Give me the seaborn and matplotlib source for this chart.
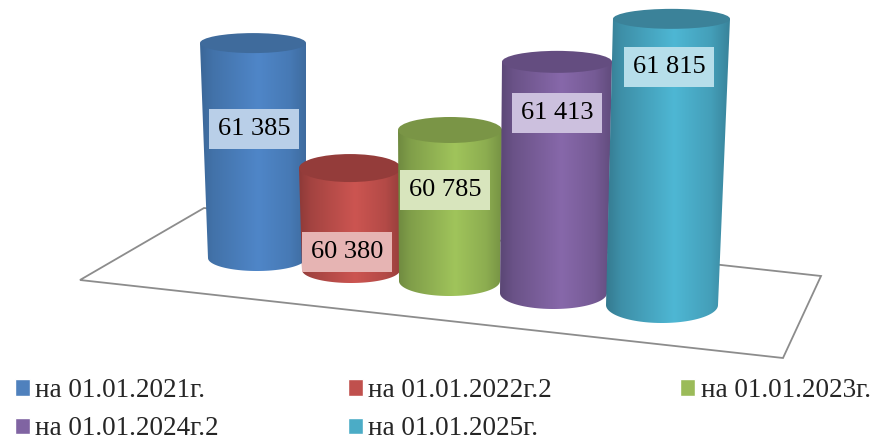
import numpy as np
import pandas as pd
import matplotlib
matplotlib.use("Agg")
import matplotlib.pyplot as plt
import matplotlib.colors as mcolors
from matplotlib.patches import Ellipse, PathPatch, Polygon
from matplotlib.path import Path
import seaborn as sns

# data
dates = ["на 01.01.2021г.", "на 01.01.2022г.2", "на 01.01.2023г.", "на 01.01.2024г.2", "на 01.01.2025г."]
values = [61385, 60380, 60785, 61413, 61815]

# colours: legend / centre of cylinder / edge / lid / label box
legend_colors = ["#4f81bd", "#c0504d", "#9bbb59", "#8064a2", "#4bacc6"]
mid_colors = ["#4f86c8", "#cc5551", "#a0c45b", "#8768aa", "#4eb7d4"]
edge_colors = ["#3b6798", "#8e3a38", "#6f8a40", "#5b4775", "#357a90"]
lid_colors = ["#3f6b9c", "#943c3a", "#7a9546", "#644d80", "#3b8299"]
box_colors = ["#b9cfe8", "#e6b4b3", "#d8e5bd", "#ccc0de", "#b6deea"]

# layout in pixels of the picture
top_left = [200, 299, 398, 502, 613]
top_right = [306, 401, 502, 612, 730]
base_left = [208, 302, 399, 500, 606]
base_right = [306, 400, 500, 607, 718]
base_y = [258, 270, 281, 293, 305]
lid_ry = [10, 14, 13, 11, 10]
base_ry = [13, 13, 15, 16, 18]
depth = [1.0, 1.0, 1.024, 1.06, 1.087]
label_x = [254, 347, 445, 557, 669]
label_drop = [86, 84, 60, 51, 48]
value_floor = 59473
px_per_unit = 0.1124

sns.set_style("white")
plt.rcParams["font.family"] = ["Liberation Serif", "DejaVu Serif"]

fig = plt.figure(figsize=(8.91, 4.41), dpi=100)
ax = fig.add_axes([0, 0, 1, 1])

df = pd.DataFrame({"date": dates, "value": values})
df["height"] = (df["value"] - value_floor) * px_per_unit * np.array(depth)
sns.barplot(data=df, x="date", y="height", hue="date", palette=legend_colors,
            saturation=1, dodge=False, legend=True, ax=ax)

# the bars only give the scaled heights, the cylinders are painted over them
bars = sorted([p for p in ax.patches if p.get_height() > 0], key=lambda p: p.get_x())
for p in ax.patches:
    p.set_visible(False)

ax.set_xlim(0, 891)
ax.set_ylim(441, 0)
ax.axis("off")

# floor
ax.add_patch(Polygon([(80, 280), (204, 208), (821, 276), (783, 358)], closed=True,
                     facecolor="white", edgecolor="#8c8c8c", linewidth=1.3, zorder=1))

# shading across a cylinder, brightest a little right of the middle
shade_pos = [0, 0.12, 0.55, 0.85, 1]
shade_mix = [0, 0.35, 1, 0.6, 0.15]

for i, bar in enumerate(bars):
    h = bar.get_height()
    y0 = base_y[i]
    y1 = y0 - h
    z = 3 + i

    c_mid = np.array(mcolors.to_rgb(mid_colors[i]))
    c_edge = np.array(mcolors.to_rgb(edge_colors[i]))
    xs = np.linspace(0, 1, 200)
    mix = np.interp(xs, shade_pos, shade_mix)[:, None]
    grad = (c_edge + (c_mid - c_edge) * mix)[None, :, :]

    cx0 = (base_left[i] + base_right[i]) / 2
    rx0 = (base_right[i] - base_left[i]) / 2
    cx1 = (top_left[i] + top_right[i]) / 2
    rx1 = (top_right[i] - top_left[i]) / 2

    t = np.linspace(0, np.pi, 60)
    arc = np.column_stack([cx0 + rx0 * np.cos(t), y0 + base_ry[i] * np.sin(t)])
    verts = np.vstack([[(top_left[i], y1), (top_right[i], y1)], arc, [(top_left[i], y1)]])
    codes = [Path.MOVETO] + [Path.LINETO] * (len(verts) - 2) + [Path.CLOSEPOLY]
    body = PathPatch(Path(verts, codes), facecolor="none", edgecolor="none", zorder=z)
    ax.add_patch(body)

    left = min(top_left[i], base_left[i])
    right = max(top_right[i], base_right[i])
    im = ax.imshow(grad, extent=(left, right, y0 + base_ry[i], y1 - lid_ry[i]),
                   aspect="auto", zorder=z, interpolation="bilinear")
    im.set_clip_path(body)

    # lid of the cylinder
    ax.add_patch(Ellipse((cx1, y1), 2 * rx1, 2 * lid_ry[i], facecolor=lid_colors[i],
                         edgecolor="none", zorder=z + 0.1))

    label = f"{values[i]:,}".replace(",", " ")
    ax.text(label_x[i], y1 + label_drop[i], label,
            ha="center", va="center", fontsize=19, color="black", zorder=20,
            bbox=dict(facecolor=box_colors[i], edgecolor="none", boxstyle="square,pad=0.33"))

ax.set_xlim(0, 891)
ax.set_ylim(441, 0)

# legend fills by columns, so reorder to read along the rows
old = ax.get_legend()
handles = list(old.legend_handles)
order = [0, 3, 1, 4, 2]
ax.legend([handles[k] for k in order], [dates[k] for k in order],
          loc="upper left", bbox_to_anchor=(0.017, 0.143), ncols=3, frameon=False,
          fontsize=19.5, handlelength=0.55, handleheight=0.55, handletextpad=0.2,
          columnspacing=4.75, labelspacing=0.5, borderpad=0, borderaxespad=0)

fig.savefig("out.png", dpi=100)
